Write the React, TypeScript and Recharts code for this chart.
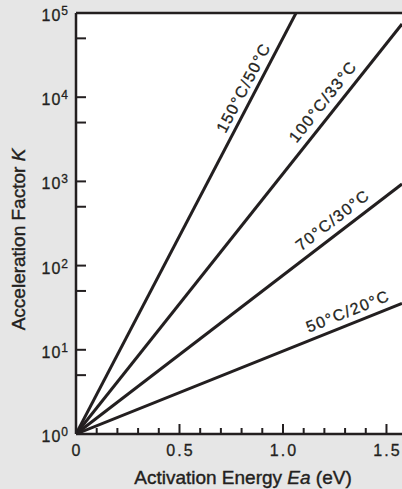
import React from "react";
import {
  LineChart,
  Line,
  XAxis,
  YAxis,
  CartesianGrid,
  ReferenceLine,
  ReferenceDot,
  Label,
} from "recharts";

// activation energy (eV) vs acceleration factor K, one straight line per temperature pair
const line150 = [
  { ea: 0, k: 1 },
  { ea: 1.063, k: 100000 },
];
const line100 = [
  { ea: 0, k: 1 },
  { ea: 1.575, k: 74000 },
];
const line70 = [
  { ea: 0, k: 1 },
  { ea: 1.575, k: 930 },
];
const line50 = [
  { ea: 0, k: 1 },
  { ea: 1.575, k: 35.5 },
];

const pairNames = ["150°C/50°C", "100°C/33°C", "70°C/30°C", "50°C/20°C"];
// where each name sits on its line (data coords)
const labelEa = [0.865, 1.242, 1.278, 1.337];
const labelK = [11000, 7100, 262, 20.6];

const energyTicks = [0, 0.1, 0.2, 0.3, 0.4, 0.5, 0.6, 0.7, 0.8, 0.9, 1.0, 1.1, 1.2, 1.3, 1.4, 1.5];
const energyLabels = ["0", "0.5", "1.0", "1.5"];
const factorTicks = [1, 5, 10, 50, 100, 500, 1000, 5000, 10000, 50000, 100000];

const INK = "#231f20";
const FONT = "'Liberation Sans', Arial, Helvetica, sans-serif";
const labelAngles = [62.3, 51.6, 37.6, 21.8];

const XTick = (props: any) => {
  const { x, y, payload } = props;
  const v = Math.round(payload.value * 10) / 10;
  const major = Math.abs(v * 2 - Math.round(v * 2)) < 1e-6;
  const text = major ? energyLabels[Math.round(v * 2)] : null;
  return (
    <g>
      <line x1={x} x2={x} y1={y} y2={y - (major ? 10 : 6)} stroke={INK} strokeWidth={2} />
      {text && (
        <text
          x={x + 1}
          y={y + 22}
          textAnchor="middle"
          fontSize={16}
          letterSpacing={2}
          fill={INK}
          stroke={INK}
          strokeWidth={0.3}
          fontFamily={FONT}
        >
          {text}
        </text>
      )}
    </g>
  );
};

const YTick = (props: any) => {
  const { x, y, payload } = props;
  const exp = Math.log10(payload.value);
  const major = Math.abs(exp - Math.round(exp)) < 1e-6;
  return (
    <g>
      <line x1={x} x2={x + 10} y1={y} y2={y} stroke={INK} strokeWidth={2} />
      {major && (
        <text
          x={x - 8}
          y={y + 8}
          textAnchor="end"
          fill={INK}
          stroke={INK}
          strokeWidth={0.3}
          fontFamily={FONT}
        >
          <tspan fontSize={16} letterSpacing={1}>10</tspan>
          <tspan fontSize={12} dy={-6}>
            {Math.round(exp)}
          </tspan>
        </text>
      )}
    </g>
  );
};

const PairLabel = (i: number) => (props: any) => {
  const { cx, cy } = props;
  return (
    <g transform={`translate(${cx},${cy}) rotate(${-labelAngles[i]})`}>
      <text
        x={0}
        y={-7.5}
        textAnchor="middle"
        fontSize={16}
        letterSpacing={1.4}
        fill={INK}
        stroke={INK}
        strokeWidth={0.3}
        fontFamily={FONT}
      >
        {pairNames[i]}
      </text>
    </g>
  );
};

const XTitle = (props: any) => {
  const { viewBox } = props;
  return (
    <text
      x={viewBox.x + viewBox.width / 2 + 4}
      y={viewBox.y + 50}
      textAnchor="middle"
      fontSize={19}
      fill={INK}
      stroke={INK}
      strokeWidth={0.4}
      fontFamily={FONT}
    >
      Activation Energy <tspan fontStyle="italic">Ea</tspan> (eV)
    </text>
  );
};

const YTitle = (props: any) => {
  const { viewBox } = props;
  const cx = 25;
  const cy = viewBox.y + viewBox.height / 2 + 16;
  return (
    <text
      transform={`translate(${cx},${cy}) rotate(-90)`}
      x={0}
      y={0}
      textAnchor="middle"
      fontSize={19}
      fill={INK}
      stroke={INK}
      strokeWidth={0.4}
      fontFamily={FONT}
    >
      Acceleration Factor <tspan fontStyle="italic">K</tspan>
    </text>
  );
};

const series = [line150, line100, line70, line50];

export default function App() {
  return (
    <div
      style={{
        position: "absolute",
        left: 0,
        top: 0,
        width: 402,
        height: 489,
        background: "#e6e6e6",
        fontFamily: FONT,
      }}
    >
      <LineChart width={402} height={489} margin={{ top: 13, right: 0, bottom: 0, left: 0 }}>
        <CartesianGrid fill="#ffffff" horizontal={false} vertical={false} />
        <XAxis
          dataKey="ea"
          type="number"
          domain={[0, 1.575]}
          allowDataOverflow
          ticks={energyTicks}
          interval={0}
          tickSize={0}
          tickMargin={0}
          tickLine={false}
          tick={<XTick />}
          height={55}
          axisLine={{ stroke: INK, strokeWidth: 2.5 }}
        >
          <Label content={<XTitle />} />
        </XAxis>
        <YAxis
          dataKey="k"
          type="number"
          scale="log"
          domain={[1, 100000]}
          allowDataOverflow
          ticks={factorTicks}
          interval={0}
          tickSize={0}
          tickMargin={0}
          tickLine={false}
          tick={<YTick />}
          width={76}
          axisLine={{ stroke: INK, strokeWidth: 2.5 }}
        >
          <Label content={<YTitle />} />
        </YAxis>
        <ReferenceLine y={100000} stroke={INK} strokeWidth={2.5} ifOverflow="visible" />
        {series.map((d, i) => (
          <Line
            key={pairNames[i]}
            data={d}
            dataKey="k"
            type="linear"
            stroke={INK}
            strokeWidth={3}
            dot={false}
            activeDot={false}
            isAnimationActive={false}
          />
        ))}
        {pairNames.map((n, i) => (
          <ReferenceDot
            key={n}
            x={labelEa[i]}
            y={labelK[i]}
            r={0}
            ifOverflow="visible"
            shape={PairLabel(i)}
          />
        ))}
      </LineChart>
    </div>
  );
}
